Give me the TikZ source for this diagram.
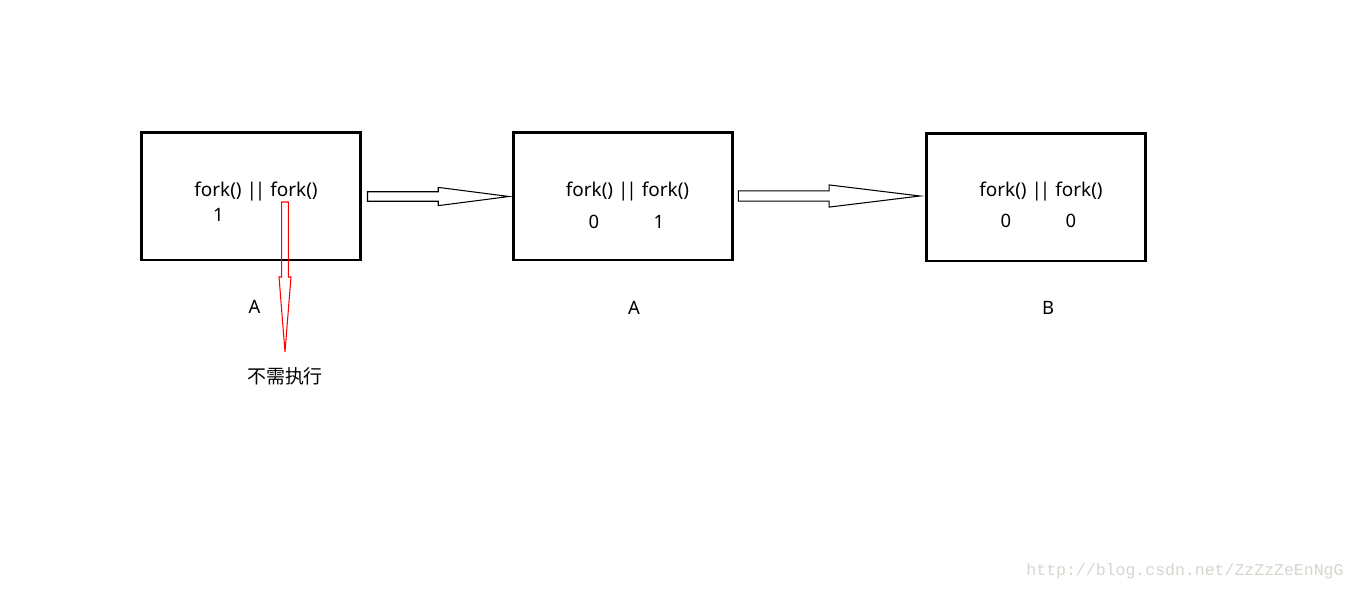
\documentclass[tikz,border=0pt]{standalone}
\usepackage{fontspec}
\setmainfont{Noto Sans}
\newfontfamily\cjk{Noto Sans CJK SC}
\newfontfamily\markfont{Liberation Mono}
\usetikzlibrary{calc}
\definecolor{markgray}{RGB}{216,212,206}
\newcommand{\forkor}{fork() |\kern-1.2pt| fork()}
\tikzset{
  procbox/.style={draw, line width=1.7pt, minimum width=4.38cm, minimum height=2.56cm, inner sep=0pt},
  code/.style={font=\fontsize{10.8}{13}\selectfont, anchor=base, inner sep=0pt},
  retval/.style={font=\fontsize{10.5}{12}\selectfont, anchor=base, inner sep=0pt},
  blockarrow/.style 2 args={line width=0.6pt, to path={
    ($(\tikztostart)!#1!90:(\tikztotarget)$)
    -- ($(\tikztostart)!.5!(\tikztotarget)!#1!90:(\tikztotarget)$)
    -- ($(\tikztostart)!.5!(\tikztotarget)!#2!90:(\tikztotarget)$)
    -- (\tikztotarget)
    -- ($(\tikztostart)!.5!(\tikztotarget)!#2!-90:(\tikztotarget)$)
    -- ($(\tikztostart)!.5!(\tikztotarget)!#1!-90:(\tikztotarget)$)
    -- ($(\tikztostart)!#1!-90:(\tikztotarget)$)
    -- cycle}},
}

\begin{document}
\begin{tikzpicture}[x=0.02cm, y=-0.02cm]
  \useasboundingbox (0,0) rectangle (1360,593);
  % Process boxes
  \node[procbox] (box1) at (251,196) {};
  \node[procbox] (box2) at (623,196) {};
  \node[procbox] (box3) at (1036,197) {};
  % Code and return values
  \node[code] (code1) at (256,196) {\forkor};
  \node[code] (code2) at (627.5,196) {\forkor};
  \node[code] (code3) at (1041,196) {\forkor};
  \node[retval] (ret1) at (218.5,221) {1};
  \node[retval] (ret2a) at (594,228) {0};
  \node[retval] (ret2b) at (659,228) {1};
  \node[retval] (ret3a) at (1006,227) {0};
  \node[retval] (ret3b) at (1071,227) {0};
  % Process names
  \node[retval] (name1) at (254.5,313) {A};
  \node[retval] (name2) at (634,314) {A};
  \node[retval] (name3) at (1048,314) {B};
  % Block arrows between boxes
  \coordinate (go1) at ($(box1.east)+(5.5,0.5)$);
  \coordinate (end1) at ($(box2.west)+(-3,0.5)$);
  \draw[blockarrow={2.7pt}{5.2pt}] (go1) to (end1);
  \coordinate (go2) at ($(box2.east)+(4.3,0)$);
  \coordinate (end2) at ($(box3.west)+(-5,-1)$);
  \draw[blockarrow={2.9pt}{6.3pt}] (go2) to (end2);
  % Second fork is skipped
  \node[font=\cjk\fontsize{10.8}{13}\selectfont] (skip) at (285,376) {不需执行};
  \coordinate (cut) at (285,202);
  \coordinate (skiptip) at ($(skip.north)+(0,-9)$);
  \draw[blockarrow={1.9pt}{3.4pt}, red] (cut) to (skiptip);
  % Watermark
  \node[font=\markfont\fontsize{9.4}{11}\selectfont, text=markgray] (mark) at (1185,571) {http://blog.csdn.net/ZzZzZeEnNgG};
\end{tikzpicture}
\end{document}
